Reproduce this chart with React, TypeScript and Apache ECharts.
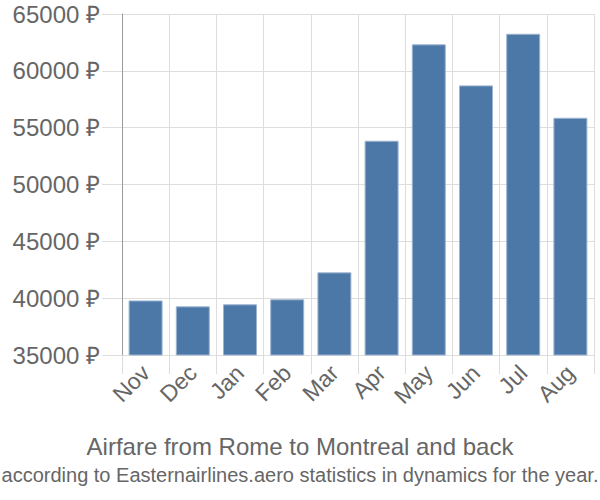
import React, { useEffect, useRef } from "react";
import * as echarts from "echarts";

const months = ["Nov", "Dec", "Jan", "Feb", "Mar", "Apr", "May", "Jun", "Jul", "Aug"];
const prices = [39800, 39280, 39460, 39900, 42270, 53850, 62330, 58720, 63260, 55870];
const titleText = "Airfare from Rome to Montreal and back";
const subtitleText = "according to Easternairlines.aero statistics in dynamics for the year.";

const FONT = "Liberation Sans, Arial, sans-serif";

export default function App() {
  const ref = useRef<HTMLDivElement>(null);
  useEffect(() => {
    if (!ref.current) return;
    const chart = echarts.init(ref.current, undefined, { renderer: "svg" });
    chart.setOption({
      animation: false,
      graphic: [
        {
          type: "text",
          x: 300,
          y: 446,
          style: {
            text: titleText,
            font: `24px ${FONT}`,
            fill: "#666",
            textAlign: "center",
            textVerticalAlign: "middle",
          },
        },
        {
          type: "text",
          x: 300,
          y: 475,
          style: {
            text: subtitleText,
            font: `20px ${FONT}`,
            fill: "#666",
            textAlign: "center",
            textVerticalAlign: "middle",
          },
        },
      ],
      grid: { left: 122, right: 6, top: 14, bottom: 145, containLabel: false },
      xAxis: {
        type: "category",
        data: months,
        boundaryGap: true,
        axisLine: { show: true, lineStyle: { color: "#ddd", width: 1 } },
        axisTick: { show: true, alignWithLabel: false, length: 19, lineStyle: { color: "#ddd" } },
        splitLine: { show: true, lineStyle: { color: "#ddd", width: 1 } },
        axisLabel: {
          rotate: 45,
          fontFamily: FONT,
          fontSize: 23,
          color: "#666",
          margin: 14,
        },
      },
      yAxis: {
        type: "value",
        min: 35000,
        max: 65000,
        interval: 5000,
        axisLine: { show: true, lineStyle: { color: "#999", width: 1 } },
        axisTick: { show: true, length: 20, lineStyle: { color: "#ddd" } },
        splitLine: { show: true, lineStyle: { color: "#ddd", width: 1 } },
        axisLabel: {
          formatter: (v: number) => `${v} ₽`,
          fontFamily: FONT,
          fontSize: 24,
          color: "#666",
          margin: 22,
        },
      },
      series: [
        {
          type: "bar",
          data: prices,
          barCategoryGap: "28%",
          itemStyle: { color: "#4c78a8", borderColor: "#9db4d0", borderWidth: 1 },
        },
      ],
    });
    return () => chart.dispose();
  }, []);
  return <div ref={ref} style={{ position: "absolute", left: 0, top: 0, width: 600, height: 500 }} />;
}
